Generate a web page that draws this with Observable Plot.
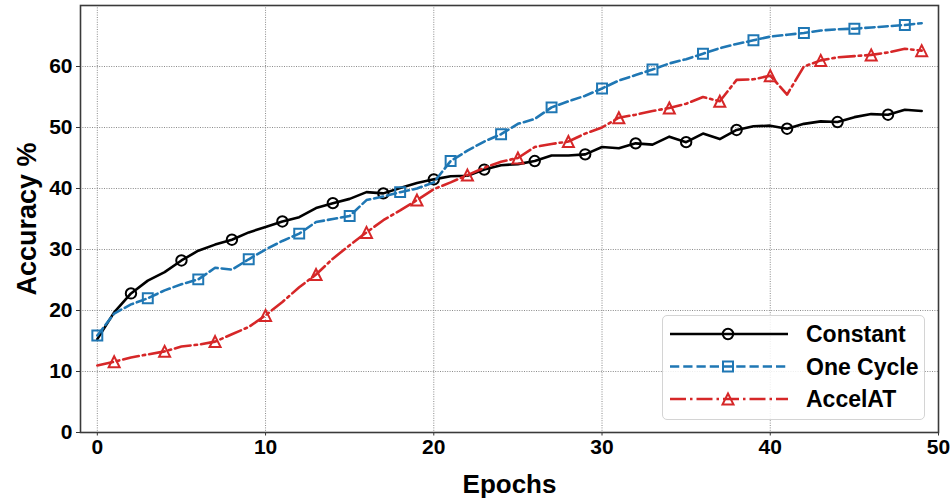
<!DOCTYPE html>
<html><head><meta charset="utf-8">
<script src="https://cdn.jsdelivr.net/npm/d3@7"></script>
<script src="https://cdn.jsdelivr.net/npm/@observablehq/plot@0.6"></script>
<style>
body{margin:0;background:#fff;}
#wrap{position:relative;width:952px;height:502px;font-family:"Liberation Sans",Arial,sans-serif;}
#legend{position:absolute;left:662px;top:315px;width:263px;height:105px;border:1px solid #d4d4d4;border-radius:5px;background:rgba(255,255,255,0.85);box-sizing:border-box;}
#legend svg{position:absolute;left:0;top:0;}
</style></head><body><div id="wrap"></div><script>
const epochs = [0,1,2,3,4,5,6,7,8,9,10,11,12,13,14,15,16,17,18,19,20,21,22,23,24,25,26,27,28,29,30,31,32,33,34,35,36,37,38,39,40,41,42,43,44,45,46,47,48,49];
const constant = [15.3,19.7,22.8,24.9,26.3,28.2,29.8,30.8,31.6,32.8,33.7,34.6,35.3,36.8,37.6,38.3,39.4,39.2,40.1,40.9,41.5,42.0,42.1,43.1,43.8,44.0,44.5,45.4,45.4,45.6,46.8,46.6,47.4,47.2,48.5,47.6,49.0,48.1,49.6,50.2,50.3,49.8,50.6,51.0,50.9,51.7,52.2,52.1,52.9,52.7];
const oneCycle = [15.9,19.5,21.0,22.0,23.3,24.3,25.1,27.0,26.7,28.4,30.0,31.4,32.6,34.5,35.0,35.5,38.1,38.7,39.4,40.0,41.0,44.5,46.2,47.7,48.9,50.6,51.4,53.3,54.3,55.2,56.4,57.7,58.6,59.5,60.5,61.2,62.1,63.0,63.7,64.3,64.9,65.2,65.5,65.9,66.1,66.2,66.4,66.6,66.8,67.1];
const accelAT = [11.0,11.6,12.3,12.8,13.3,14.1,14.4,14.9,16.1,17.3,19.2,21.4,23.8,25.9,28.5,30.7,32.8,34.8,36.4,38.1,39.9,41.0,42.2,43.4,44.4,45.0,46.8,47.3,47.7,49.0,50.0,51.6,52.1,52.7,53.2,53.9,55.0,54.3,57.8,57.9,58.5,55.4,60.0,61.0,61.5,61.7,61.9,62.3,62.9,62.6];
const seriesNames = ["Constant","One Cycle","AccelAT"];
const xTicks = [0,10,20,30,40,50];
const yTicks = [0,10,20,30,40,50,60];

const triangle = {draw(ctx, size){const h=Math.sqrt(size/Math.PI);ctx.moveTo(0,-h);ctx.lineTo(h,h);ctx.lineTo(-h,h);ctx.closePath();}};

const styles = [
  {color:"#000000", dash:null, symbol:"circle", r:5.2, offset:2},
  {color:"#1f77b4", dash:"9.25,4", symbol:"square", r:5.6, offset:0},
  {color:"#d62728", dash:"16,4,2.5,4", symbol:triangle, r:5.5, offset:1}
];
const valuesList = [constant, oneCycle, accelAT];

const marks = [
  Plot.gridX(xTicks, {stroke:"#8a8a8a", strokeOpacity:1, strokeWidth:1, strokeDasharray:"1,1.4"}),
  Plot.gridY(yTicks, {stroke:"#8a8a8a", strokeOpacity:1, strokeWidth:1, strokeDasharray:"1,1.4"}),
  Plot.axisX(xTicks, {tickSize:3.5, tickPadding:3, fontSize:21, fontWeight:"bold", label:null, fill:"#000", stroke:"#333", tickFormat:d=>d}),
  Plot.axisY(yTicks, {tickSize:4, tickPadding:4, fontSize:21, fontWeight:"bold", label:null, fill:"#000", stroke:"#333", tickFormat:d=>d}),
  Plot.frame({stroke:"#3a3a3a", strokeWidth:1.6})
];
seriesNames.forEach((name, k) => {
  const s = styles[k];
  const rows = epochs.map((e, i) => ({epoch:e, acc:valuesList[k][i], series:name}));
  marks.push(Plot.line(rows, {x:"epoch", y:"acc", stroke:s.color, strokeWidth:2.6, strokeDasharray:s.dash, strokeLinejoin:"round"}));
  marks.push(Plot.dot(rows.filter((d,i)=>i%3===s.offset), {x:"epoch", y:"acc", symbol:s.symbol, r:s.r, stroke:s.color, strokeWidth:2, fill:"none"}));
});
marks.push(Plot.text(["Epochs"], {text:d=>d, frameAnchor:"bottom", dy:52, textAnchor:"middle", lineAnchor:"middle", fontSize:26, fontWeight:"bold", fill:"#000"}));
marks.push(Plot.text(["Accuracy %"], {text:d=>d, frameAnchor:"left", dx:-53, rotate:-90, textAnchor:"middle", lineAnchor:"middle", fontSize:27, fontWeight:"bold", fill:"#000"}));

const chart = Plot.plot({
  width:952, height:502,
  marginLeft:80, marginRight:14, marginTop:5, marginBottom:70,
  x:{domain:[-1,50], axis:null},
  y:{domain:[0,70], axis:null},
  style:{fontFamily:"'Liberation Sans', Arial, sans-serif", background:"white", overflow:"visible"},
  marks
});
const wrap = document.getElementById("wrap");
wrap.appendChild(chart);

// Legend
const legend = document.createElement("div");
legend.id = "legend";
const ns = "http://www.w3.org/2000/svg";
const svg = document.createElementNS(ns, "svg");
svg.setAttribute("width", 263); svg.setAttribute("height", 105);
const rowY = [18, 50.5, 83];
seriesNames.forEach((name, k) => {
  const s = styles[k];
  const line = document.createElementNS(ns, "line");
  line.setAttribute("x1", 7); line.setAttribute("x2", 125);
  line.setAttribute("y1", rowY[k]); line.setAttribute("y2", rowY[k]);
  line.setAttribute("stroke", s.color); line.setAttribute("stroke-width", 2.6);
  if (s.dash) line.setAttribute("stroke-dasharray", s.dash);
  svg.appendChild(line);
  let m;
  if (k === 0) { m = document.createElementNS(ns, "circle"); m.setAttribute("cx", 65); m.setAttribute("cy", rowY[k]); m.setAttribute("r", 5.2); }
  else if (k === 1) { m = document.createElementNS(ns, "rect"); m.setAttribute("x", 60); m.setAttribute("y", rowY[k]-5); m.setAttribute("width", 10); m.setAttribute("height", 10); }
  else { m = document.createElementNS(ns, "path"); const h=5.5; m.setAttribute("d", `M65,${rowY[k]-h}L${65+h},${rowY[k]+h}L${65-h},${rowY[k]+h}Z`); }
  m.setAttribute("fill", "none"); m.setAttribute("stroke", s.color); m.setAttribute("stroke-width", 2);
  svg.appendChild(m);
  const t = document.createElementNS(ns, "text");
  t.setAttribute("x", 143); t.setAttribute("y", rowY[k]); t.setAttribute("dy", "0.36em");
  t.setAttribute("font-size", 23); t.setAttribute("font-weight", "bold");
  t.setAttribute("font-family", "'Liberation Sans', Arial, sans-serif");
  t.textContent = name;
  svg.appendChild(t);
});
legend.appendChild(svg);
wrap.appendChild(legend);
</script></body></html>
